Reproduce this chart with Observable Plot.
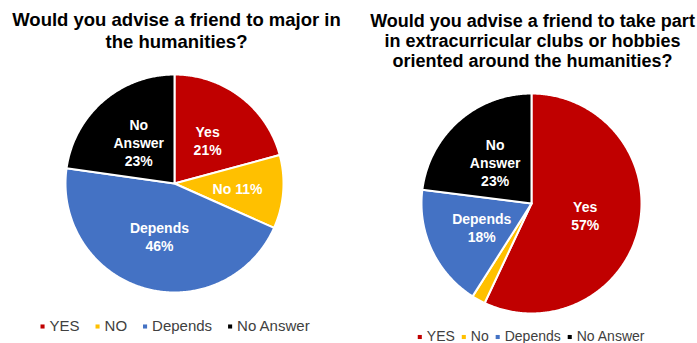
<!DOCTYPE html>
<html><head><meta charset="utf-8">
<script src="https://cdn.jsdelivr.net/npm/d3@7"></script>
<script src="https://cdn.jsdelivr.net/npm/@observablehq/plot@0.6"></script>
<style>body{margin:0;background:#fff;} #chart{width:697px;height:343px;overflow:hidden;}</style>
</head><body><div id="chart"></div>
<script>
const categories = ["Yes", "No", "Depends", "No Answer"];
const colors = ["#C00000", "#FFC000", "#4472C4", "#000000"];
const majorValues = [21, 11, 46, 23];
const clubValues = [57, 2, 18, 23];
const majorLegend = ["YES", "NO", "Depends", "No Answer"];
const clubLegend = ["YES", "No", "Depends", "No Answer"];
const majorTitle = "Would you advise a friend to major in\nthe humanities?";
const clubTitle = "Would you advise a friend to take part\nin extracurricular clubs or hobbies\noriented around the humanities?";

const W = 697, H = 343;
const charts = [
  {key: "major", values: majorValues, legend: majorLegend, title: majorTitle,
   cx: 174, cy: 183, r: 109, titleX: 176, titleY: 11, titleSize: 18.5, legendY: 326, legendSize: 15, legendGap: 18},
  {key: "club", values: clubValues, legend: clubLegend, title: clubTitle,
   cx: 531, cy: 203, r: 110, titleX: 532, titleY: 12.8, titleSize: 18, legendY: 336.5, legendSize: 14, legendGap: 9}
];

const pie = d3.pie().sort(null).value(d => d);
const slices = [], labels = [], legendItems = [];
const ctx = document.createElement("canvas").getContext("2d");

for (const c of charts) {
  const total = d3.sum(c.values);
  pie(c.values).forEach((a, i) => {
    const id = c.key + i, cat = categories[i];
    slices.push({id, cat, x: c.cx, y: c.cy});
    const n = Math.max(2, Math.ceil((a.endAngle - a.startAngle) / 0.01));
    for (let k = 0; k <= n; k++) {
      const t = a.startAngle + (a.endAngle - a.startAngle) * k / n;
      slices.push({id, cat, x: c.cx + c.r * Math.sin(t), y: c.cy - c.r * Math.cos(t)});
    }
    slices.push({id, cat, x: c.cx, y: c.cy});
    const share = a.value / total;
    if (share >= 0.05) {
      const m = (a.startAngle + a.endAngle) / 2, f = share < 0.15 ? 0.58 : 0.5;
      labels.push({
        x: c.cx + f * c.r * Math.sin(m), y: c.cy - f * c.r * Math.cos(m),
        text: share < 0.15 ? `${cat} ${a.value}%` : `${cat.replace(" ", "\n")}\n${a.value}%`
      });
    }
  });
  ctx.font = `${c.legendSize}px "Liberation Sans"`;
  const widths = c.legend.map(t => ctx.measureText(t).width);
  const step = 7;
  const totalW = d3.sum(widths) + step * widths.length + c.legendGap * (widths.length - 1);
  let x = c.titleX - totalW / 2;
  c.legend.forEach((t, i) => {
    legendItems.push({cat: categories[i], mx: x, tx: x + step, y: c.legendY, label: t, size: c.legendSize});
    x += step + widths[i] + c.legendGap;
  });
}

const plot = Plot.plot({
  width: W, height: H, margin: 0,
  x: {domain: [0, W], range: [0, W], axis: null},
  y: {domain: [0, H], range: [0, H], axis: null},
  color: {domain: categories, range: colors},
  style: {fontFamily: '"Liberation Sans", Arial, sans-serif', background: "#fff", overflow: "hidden"},
  marks: [
    Plot.line(slices, {x: "x", y: "y", z: "id", fill: "cat", stroke: "white", strokeWidth: 2, strokeLinejoin: "round"}),
    Plot.text(labels, {x: "x", y: "y", text: "text", fill: "white", fontWeight: "bold", fontSize: 14, lineHeight: 1.3}),
    Plot.text([charts[0]], {x: "titleX", y: "titleY", text: "title", lineAnchor: "top", fontSize: charts[0].titleSize, fontWeight: "bold", fill: "#000", lineHeight: 1.14}),
    Plot.text([charts[1]], {x: "titleX", y: "titleY", text: "title", lineAnchor: "top", fontSize: charts[1].titleSize, fontWeight: "bold", fill: "#000", lineHeight: 1.11}),
    Plot.dot(legendItems, {x: "mx", y: "y", fill: "cat", symbol: "square", r: 2.3}),
    Plot.text(legendItems, {x: "tx", y: "y", text: "label", textAnchor: "start", fontSize: "size", fill: "#404040"})
  ]
});
document.getElementById("chart").append(plot);
</script>
</body></html>
